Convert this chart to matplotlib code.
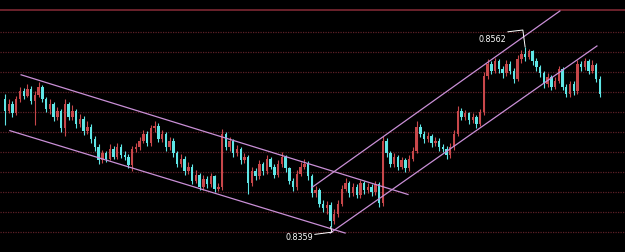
import numpy as np
import matplotlib
matplotlib.use("Agg")
import matplotlib.pyplot as plt

# candle data (price)
opens = [0.8503, 0.8490, 0.8498, 0.8487, 0.8503, 0.8512, 0.8507, 0.8515, 0.8501, 0.8508,
         0.8517, 0.8503, 0.8492, 0.8498, 0.8483, 0.8490, 0.8470, 0.8498, 0.8483, 0.8490,
         0.8475, 0.8481, 0.8467, 0.8472, 0.8458, 0.8449, 0.8434, 0.8442, 0.8436, 0.8447,
         0.8438, 0.8449, 0.8440, 0.8438, 0.8429, 0.8447, 0.8449, 0.8456, 0.8464, 0.8453,
         0.8470, 0.8473, 0.8458, 0.8464, 0.8449, 0.8456, 0.8442, 0.8430, 0.8436, 0.8422,
         0.8427, 0.8411, 0.8418, 0.8404, 0.8413, 0.8407, 0.8416, 0.8402, 0.8404, 0.8464,
         0.8449, 0.8456, 0.8442, 0.8447, 0.8434, 0.8438, 0.8408, 0.8422, 0.8416, 0.8430,
         0.8422, 0.8436, 0.8427, 0.8418, 0.8430, 0.8438, 0.8425, 0.8411, 0.8404, 0.8419,
         0.8427, 0.8430, 0.8416, 0.8397, 0.8400, 0.8385, 0.8380, 0.8384, 0.8366, 0.8374,
         0.8385, 0.8402, 0.8408, 0.8397, 0.8404, 0.8395, 0.8408, 0.8400, 0.8404, 0.8398,
         0.8407, 0.8386, 0.8456, 0.8442, 0.8430, 0.8438, 0.8427, 0.8434, 0.8425, 0.8436,
         0.8445, 0.8472, 0.8464, 0.8458, 0.8461, 0.8453, 0.8456, 0.8449, 0.8447, 0.8440,
         0.8449, 0.8464, 0.8490, 0.8483, 0.8487, 0.8479, 0.8483, 0.8475, 0.8488, 0.8529,
         0.8543, 0.8535, 0.8546, 0.8537, 0.8532, 0.8543, 0.8535, 0.8526, 0.8548, 0.8554,
         0.8551, 0.8557, 0.8546, 0.8539, 0.8532, 0.8520, 0.8528, 0.8517, 0.8524, 0.8537,
         0.8517, 0.8509, 0.8520, 0.8512, 0.8543, 0.8539, 0.8546, 0.8535, 0.8542, 0.8526]
closes = [0.8490, 0.8498, 0.8487, 0.8503, 0.8512, 0.8507, 0.8515, 0.8501, 0.8508, 0.8517,
          0.8503, 0.8492, 0.8498, 0.8483, 0.8490, 0.8470, 0.8498, 0.8483, 0.8490, 0.8475,
          0.8481, 0.8467, 0.8472, 0.8458, 0.8449, 0.8434, 0.8442, 0.8436, 0.8447, 0.8438,
          0.8449, 0.8440, 0.8438, 0.8429, 0.8447, 0.8449, 0.8456, 0.8464, 0.8453, 0.8470,
          0.8473, 0.8458, 0.8464, 0.8449, 0.8456, 0.8442, 0.8430, 0.8436, 0.8422, 0.8427,
          0.8411, 0.8418, 0.8404, 0.8413, 0.8407, 0.8416, 0.8402, 0.8404, 0.8464, 0.8449,
          0.8456, 0.8442, 0.8447, 0.8434, 0.8438, 0.8408, 0.8422, 0.8416, 0.8430, 0.8422,
          0.8436, 0.8427, 0.8418, 0.8430, 0.8438, 0.8425, 0.8411, 0.8404, 0.8419, 0.8427,
          0.8430, 0.8416, 0.8397, 0.8400, 0.8385, 0.8380, 0.8384, 0.8366, 0.8374, 0.8385,
          0.8402, 0.8408, 0.8397, 0.8404, 0.8395, 0.8408, 0.8400, 0.8404, 0.8398, 0.8407,
          0.8386, 0.8456, 0.8442, 0.8430, 0.8438, 0.8427, 0.8434, 0.8425, 0.8436, 0.8445,
          0.8472, 0.8464, 0.8458, 0.8461, 0.8453, 0.8456, 0.8449, 0.8447, 0.8440, 0.8449,
          0.8464, 0.8490, 0.8483, 0.8487, 0.8479, 0.8483, 0.8475, 0.8488, 0.8529, 0.8543,
          0.8535, 0.8546, 0.8537, 0.8532, 0.8543, 0.8535, 0.8526, 0.8548, 0.8554, 0.8551,
          0.8557, 0.8546, 0.8539, 0.8532, 0.8520, 0.8528, 0.8517, 0.8524, 0.8537, 0.8517,
          0.8509, 0.8520, 0.8512, 0.8543, 0.8539, 0.8546, 0.8535, 0.8542, 0.8526, 0.8509]
highs = [0.8509, 0.8503, 0.8501, 0.8507, 0.8517, 0.8516, 0.8520, 0.8518, 0.8512, 0.8522,
         0.8519, 0.8506, 0.8503, 0.8500, 0.8494, 0.8492, 0.8503, 0.8500, 0.8496, 0.8492,
         0.8486, 0.8484, 0.8478, 0.8475, 0.8461, 0.8452, 0.8446, 0.8445, 0.8452, 0.8450,
         0.8453, 0.8452, 0.8445, 0.8441, 0.8450, 0.8454, 0.8460, 0.8468, 0.8467, 0.8474,
         0.8478, 0.8476, 0.8468, 0.8466, 0.8460, 0.8459, 0.8445, 0.8441, 0.8439, 0.8432,
         0.8430, 0.8423, 0.8420, 0.8417, 0.8416, 0.8420, 0.8418, 0.8409, 0.8469, 0.8466,
         0.8460, 0.8458, 0.8451, 0.8449, 0.8442, 0.8440, 0.8426, 0.8425, 0.8434, 0.8432,
         0.8440, 0.8438, 0.8430, 0.8434, 0.8443, 0.8440, 0.8427, 0.8414, 0.8423, 0.8432,
         0.8435, 0.8433, 0.8419, 0.8405, 0.8403, 0.8389, 0.8388, 0.8387, 0.8379, 0.8389,
         0.8406, 0.8414, 0.8411, 0.8409, 0.8407, 0.8412, 0.8411, 0.8409, 0.8407, 0.8411,
         0.8410, 0.8462, 0.8459, 0.8445, 0.8442, 0.8440, 0.8438, 0.8437, 0.8440, 0.8449,
         0.8478, 0.8475, 0.8467, 0.8466, 0.8464, 0.8460, 0.8459, 0.8452, 0.8450, 0.8453,
         0.8468, 0.8495, 0.8493, 0.8491, 0.8489, 0.8487, 0.8485, 0.8492, 0.8534, 0.8548,
         0.8546, 0.8550, 0.8548, 0.8540, 0.8547, 0.8546, 0.8538, 0.8553, 0.8558, 0.8562,
         0.8560, 0.8559, 0.8549, 0.8542, 0.8535, 0.8532, 0.8530, 0.8528, 0.8540, 0.8539,
         0.8520, 0.8524, 0.8523, 0.8547, 0.8546, 0.8550, 0.8548, 0.8547, 0.8544, 0.8529]
lows = [0.8474, 0.8487, 0.8483, 0.8485, 0.8500, 0.8503, 0.8505, 0.8498, 0.8474, 0.8506,
        0.8500, 0.8488, 0.8486, 0.8478, 0.8479, 0.8466, 0.8462, 0.8480, 0.8480, 0.8471,
        0.8472, 0.8463, 0.8464, 0.8454, 0.8445, 0.8430, 0.8431, 0.8432, 0.8434, 0.8435,
        0.8436, 0.8437, 0.8434, 0.8425, 0.8422, 0.8443, 0.8446, 0.8453, 0.8450, 0.8450,
        0.8466, 0.8455, 0.8455, 0.8445, 0.8446, 0.8438, 0.8426, 0.8427, 0.8418, 0.8419,
        0.8407, 0.8408, 0.8400, 0.8401, 0.8403, 0.8404, 0.8398, 0.8399, 0.8400, 0.8446,
        0.8445, 0.8438, 0.8439, 0.8430, 0.8431, 0.8396, 0.8405, 0.8412, 0.8413, 0.8418,
        0.8419, 0.8424, 0.8414, 0.8415, 0.8427, 0.8421, 0.8407, 0.8399, 0.8401, 0.8416,
        0.8424, 0.8412, 0.8393, 0.8393, 0.8381, 0.8376, 0.8374, 0.8359, 0.8362, 0.8370,
        0.8382, 0.8399, 0.8393, 0.8394, 0.8391, 0.8392, 0.8396, 0.8397, 0.8394, 0.8395,
        0.8381, 0.8382, 0.8438, 0.8426, 0.8427, 0.8423, 0.8424, 0.8421, 0.8422, 0.8433,
        0.8442, 0.8460, 0.8454, 0.8455, 0.8449, 0.8450, 0.8445, 0.8443, 0.8436, 0.8437,
        0.8446, 0.8461, 0.8479, 0.8480, 0.8475, 0.8476, 0.8471, 0.8473, 0.8485, 0.8526,
        0.8531, 0.8532, 0.8533, 0.8527, 0.8529, 0.8531, 0.8521, 0.8523, 0.8544, 0.8546,
        0.8548, 0.8542, 0.8535, 0.8528, 0.8516, 0.8517, 0.8513, 0.8514, 0.8521, 0.8513,
        0.8505, 0.8506, 0.8508, 0.8509, 0.8535, 0.8536, 0.8531, 0.8532, 0.8522, 0.8505]

# channel lines: (candle index, price) endpoints
down_upper = [(4.3, 0.85305), (107.7, 0.83955)]
down_lower = [(1.3, 0.84675), (90.9, 0.83520)]
up_upper = [(82.0, 0.84034), (148.3, 0.86025)]
up_lower = [(86.9, 0.83520), (158.2, 0.85630)]

# horizontal grid levels
top_level = 0.86036
grid_levels = [0.85788, 0.85562, 0.85337, 0.85111, 0.84885, 0.84660,
               0.84434, 0.84209, 0.83983, 0.83757, 0.83532]

hi_label = "0.8562"
lo_label = "0.8359"

bull_col = '#c8474a'
bear_col = '#5fe6e6'
line_col = '#c98fd6'

fig = plt.figure(figsize=(6.25, 2.53), dpi=100, facecolor='black')
ax = fig.add_axes([0, 0, 1, 1])
ax.set_facecolor('black')
ax.set_axis_off()

ax.axhline(top_level, color='#7d2833', lw=1.2, zorder=1)
for lvl in grid_levels:
    ax.axhline(lvl, color='#5c1f27', lw=0.9, ls=(0, (1, 1)), zorder=1)

o = np.array(opens)
c = np.array(closes)
h = np.array(highs)
l = np.array(lows)
x = np.arange(len(c))
up = c >= o
cols = np.where(up, bull_col, bear_col)

ax.vlines(x, l, h, colors=cols, lw=0.8, zorder=3)
body_bottom = np.minimum(o, c)
body_h = np.maximum(np.abs(c - o), 0.0001)
ax.bar(x, body_h, bottom=body_bottom, width=0.65, color=cols, lw=0, zorder=4)

for seg in [down_upper, down_lower, up_upper, up_lower]:
    ax.plot([seg[0][0], seg[1][0]], [seg[0][1], seg[1][1]],
            color=line_col, lw=0.9, zorder=5)

# high / low markers
i_hi = int(np.argmax(h))
i_lo = int(np.argmin(l))
ax.plot([134.4, 138.4, i_hi], [0.8579, 0.8581, h[i_hi]], color='white', lw=0.7, zorder=6)
ax.text(134.0, 0.8572, hi_label, color='white', fontsize=5.8, ha='right', va='center', zorder=6)
ax.plot([82.8, 87.4, i_lo], [0.83505, 0.8353, l[i_lo]], color='white', lw=0.7, zorder=6)
ax.text(82.4, 0.83485, lo_label, color='white', fontsize=5.8, ha='right', va='center', zorder=6)

ax.set_xlim(-1.34, 165.7)
ax.set_ylim(0.83306, 0.8616)

fig.savefig('out.png', dpi=100, facecolor='black')
